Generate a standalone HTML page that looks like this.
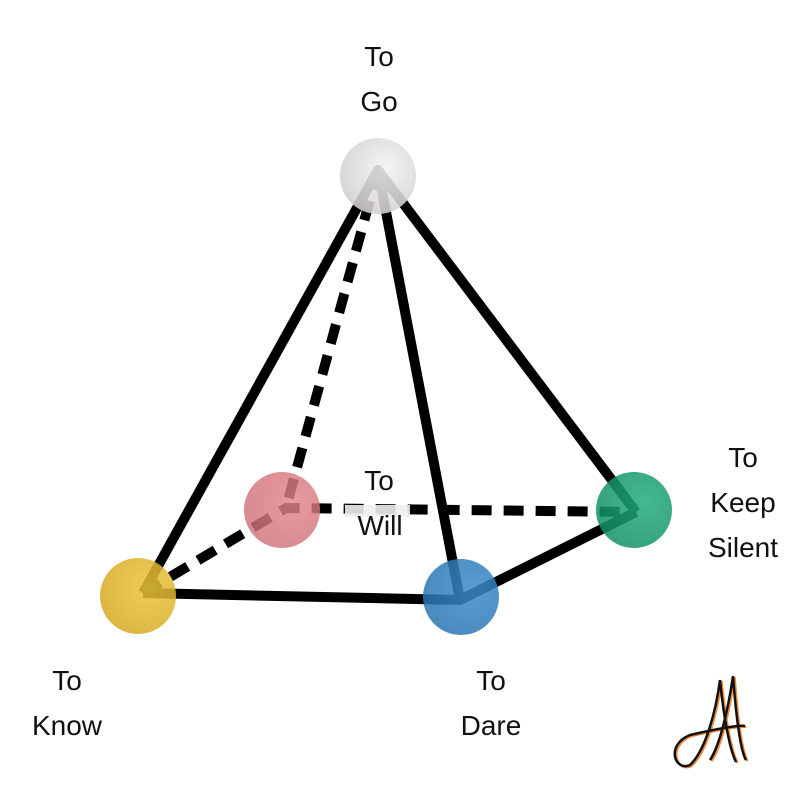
<!DOCTYPE html>
<html><head><meta charset="utf-8"><style>
html,body{margin:0;padding:0;background:#fff;}
svg{display:block}
text{font-family:"Liberation Sans Narrow","Liberation Sans",sans-serif;font-size:28px;fill:#111;text-anchor:middle}
</style></head><body>
<svg width="800" height="800" viewBox="0 0 800 800">
<defs>
<radialGradient id="gw" cx="0.6" cy="0.4" r="0.7"><stop offset="0" stop-color="#f4f2f3"/><stop offset="1" stop-color="#cfcbcd"/></radialGradient>
<radialGradient id="gp" cx="0.65" cy="0.4" r="0.7"><stop offset="0" stop-color="#e2868c"/><stop offset="1" stop-color="#cc6f78"/></radialGradient>
<radialGradient id="gy" cx="0.65" cy="0.4" r="0.7"><stop offset="0" stop-color="#ecc43c"/><stop offset="1" stop-color="#d4a820"/></radialGradient>
<radialGradient id="gb" cx="0.65" cy="0.4" r="0.7"><stop offset="0" stop-color="#3c8ccc"/><stop offset="1" stop-color="#2a74b0"/></radialGradient>
<radialGradient id="gg" cx="0.65" cy="0.4" r="0.7"><stop offset="0" stop-color="#22ac80"/><stop offset="1" stop-color="#128e66"/></radialGradient>
</defs>
<g stroke="#000" stroke-width="10" fill="none" stroke-linejoin="round">
<path d="M378 170 L286 508"  stroke-dasharray="20 12"/>
<path d="M143 593 L286 508 L636 512" stroke-dasharray="20 12"/>
<path d="M143 593 L378 170 L636 512"/>
<path d="M378 170 L460 600"/>
<path d="M143 593 L460 600 L636 512"/>
</g>
<rect x="345" y="505" width="65" height="12" fill="#eee" opacity="0.9"/>
<circle cx="378" cy="176" r="38" fill="url(#gw)" opacity="0.88"/>
<circle cx="282" cy="510" r="38" fill="url(#gp)" opacity="0.82"/>
<circle cx="138" cy="596" r="38" fill="url(#gy)" opacity="0.85"/>
<circle cx="461" cy="597" r="38" fill="url(#gb)" opacity="0.85"/>
<circle cx="634" cy="510" r="38" fill="url(#gg)" opacity="0.85"/>
<text x="379" y="66">To</text><text x="379" y="111">Go</text>
<text x="379" y="490">To</text><text x="380" y="535">Will</text>
<text x="743" y="467">To</text><text x="743" y="512">Keep</text><text x="743" y="557">Silent</text>
<text x="67" y="690">To</text><text x="67" y="735">Know</text>
<text x="491" y="690">To</text><text x="491" y="735">Dare</text>
<g fill="none" stroke-width="2.5">
<g stroke="#f08a3a" transform="translate(1.5,1)">
<path d="M720 680 C716 710 706 750 690 765 C675 772 665 745 690 735 C720 728 740 725 745 726"/>
<path d="M720 680 C724 720 730 750 736 762"/>
<path d="M733 676 C728 710 720 745 710 760 M733 676 C736 715 740 750 746 760"/>
</g>
<g stroke="#111">
<path d="M720 680 C716 710 706 750 690 765 C675 772 665 745 690 735 C720 728 740 725 745 726"/>
<path d="M720 680 C724 720 730 750 736 762"/>
<path d="M733 676 C728 710 720 745 710 760 M733 676 C736 715 740 750 746 760"/>
</g>
</g>
</svg>
</body></html>
